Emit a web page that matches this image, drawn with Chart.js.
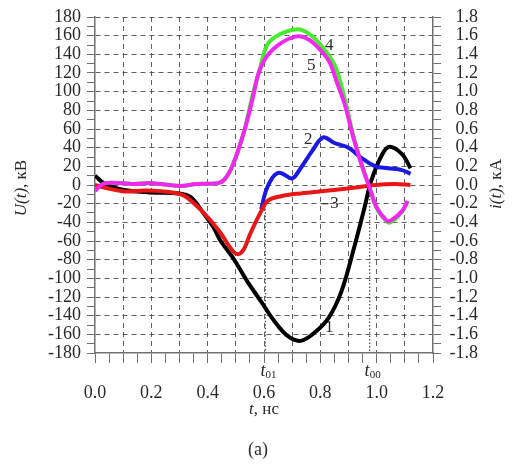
<!DOCTYPE html>
<html>
<head>
<meta charset="utf-8">
<script src="https://cdn.jsdelivr.net/npm/chart.js@4.4.1/dist/chart.umd.min.js"></script>
<style>
  html, body { margin: 0; padding: 0; background: #fff; }
  #chart { display: block; }
</style>
</head>
<body>
<canvas id="chart" width="512" height="468"></canvas>
<script>
// time axis, ns
const tRange = [0, 1.2];
// voltage axis, kV (left) and current axis, kA (right)
const uRange = [-180, 180];
const iRange = [-1.8, 1.8];

// curve 1 (black)
const curve1T = [0, 0.036, 0.1, 0.2, 0.3, 0.34, 0.38, 0.42, 0.446, 0.49, 0.54, 0.59, 0.637, 0.685, 0.73, 0.78, 0.83, 0.875, 0.92, 0.957, 0.98, 1.02, 1.046, 1.09, 1.12];
const curve1U = [10, 1, -5, -8, -9, -13, -28, -45, -60, -78, -103, -125, -146, -162, -167, -158, -142, -114, -67, -24, 4, 33, 41, 33, 18];

// curve 2 (blue)
const curve2T = [0.59, 0.607, 0.63, 0.65, 0.667, 0.70, 0.73, 0.77, 0.81, 0.85, 0.90, 0.946, 0.995, 1.04, 1.09, 1.12];
const curve2U = [-26, -6, 8, 13, 12, 7, 18, 36, 51, 45, 40, 29, 20, 18, 16, 12];

// curve 3 (red)
const curve3T = [0, 0.036, 0.107, 0.18, 0.275, 0.32, 0.38, 0.44, 0.49, 0.51, 0.53, 0.55, 0.59, 0.613, 0.66, 0.73, 0.83, 0.92, 0.995, 1.065, 1.12];
const curve3U = [0, -3, -7, -6, -8, -12, -28, -49, -71, -74, -68, -53, -28, -17, -12, -9, -6, -3, 0, 1, 0];

// curve 4 (green)
const curve4T = [0, 0.036, 0.14, 0.2, 0.3, 0.36, 0.435, 0.46, 0.49, 0.53, 0.56, 0.585, 0.613, 0.66, 0.72, 0.755, 0.79, 0.85, 0.886, 0.917, 0.946, 0.975, 1.0, 1.035, 1.05, 1.09, 1.11];
const curve4U = [-6, 2, 1, 2, -1, 1, 2, 6, 22, 58, 97, 124, 151, 162, 167, 163, 154, 129, 93, 53, 23, -3, -25, -39, -40, -29, -18];

// curve 5 (magenta)
const curve5T = [0, 0.036, 0.14, 0.2, 0.3, 0.36, 0.435, 0.46, 0.49, 0.53, 0.56, 0.58, 0.61, 0.66, 0.71, 0.745, 0.78, 0.83, 0.86, 0.886, 0.917, 0.946, 0.975, 1.0, 1.035, 1.05, 1.09, 1.11];
const curve5U = [-6, 2, 1, 2, -1, 1, 2, 6, 22, 58, 93, 119, 138, 152, 159, 158, 151, 133, 109, 87, 51, 22, -3, -24, -38, -38, -28, -17];

// characteristic times t01, t00 and the voltage where their markers start
const markerT = [0.605, 0.975];
const markerTop = [-18, 0];
const markerNames = ['01', '00'];

// curve numbers and where they sit
const curveNames = ['1', '2', '3', '4', '5'];
const curveNameT = [0.832, 0.757, 0.85, 0.832, 0.768];
const curveNameU = [-153, 49, -20, 149, 128];

const serif = '"Liberation Serif", "DejaVu Serif", serif';
const gridColor = 'rgba(70,70,70,0.85)';
const axisColor = '#707070';
const textColor = '#2a2a2a';

function points(ts, us) {
  return ts.map((t, k) => ({ x: t, y: us[k] }));
}

function curve(ts, us, color, order) {
  return {
    data: points(ts, us),
    borderColor: color,
    borderWidth: 4,
    pointRadius: 0,
    tension: 0.35,
    order: order
  };
}

const markerSets = markerT.map((t, k) => ({
  data: points([t, t], [markerTop[k], uRange[0]]),
  borderColor: '#555',
  borderWidth: 1.3,
  borderDash: [1.5, 2],
  pointRadius: 0,
  order: 10
}));

// draws a line of mixed-font text centred at (x, y)
function drawRuns(ctx, runs, x, y, angle) {
  ctx.save();
  ctx.translate(x, y);
  ctx.rotate(angle || 0);
  ctx.textBaseline = 'middle';
  ctx.textAlign = 'left';
  let total = 0;
  runs.forEach(r => { ctx.font = r[1]; total += ctx.measureText(r[0]).width; });
  let cx = -total / 2;
  runs.forEach(r => {
    ctx.font = r[1];
    ctx.fillText(r[0], cx, r[2] || 0);
    cx += ctx.measureText(r[0]).width;
  });
  ctx.restore();
}

const textPlugin = {
  id: 'annotations',
  afterDraw(chart) {
    const ctx = chart.ctx;
    const xs = chart.scales.x, ys = chart.scales.y;
    const it = 'italic 17px ' + serif, up = '17px ' + serif;
    ctx.fillStyle = textColor;

    drawRuns(ctx, [['U(t)', it], [', кВ', up]], 22, 188, -Math.PI / 2);
    drawRuns(ctx, [['i(t)', it], [', кА', up]], 497, 184, -Math.PI / 2);
    drawRuns(ctx, [['t', it], [', нс', up]], 264, 410);

    markerT.forEach((t, k) => {
      drawRuns(ctx, [['t', 'italic 18px ' + serif], [markerNames[k], '11px ' + serif, 4]], xs.getPixelForValue(t) + 3, 371);
    });

    curveNames.forEach((name, k) => {
      const px = xs.getPixelForValue(curveNameT[k]);
      const py = ys.getPixelForValue(curveNameU[k]);
      drawRuns(ctx, [[name, up]], px, py);
      if (name === '3') {
        ctx.save();
        ctx.strokeStyle = textColor;
        ctx.lineWidth = 1.2;
        ctx.beginPath();
        ctx.moveTo(px - 12, py);
        ctx.lineTo(px - 6, py);
        ctx.stroke();
        ctx.restore();
      }
    });

    drawRuns(ctx, [['(a)', '18px ' + serif]], 258, 450);
  }
};

const isStep = (v, scale, step) => Math.abs(Math.round(v * scale) % step) === 0;

new Chart(document.getElementById('chart'), {
  type: 'line',
  data: {
    datasets: [
      curve(curve5T, curve5U, 'rgb(240,40,240)', 0),
      curve(curve3T, curve3U, 'rgb(232,22,22)', 1),
      curve(curve2T, curve2U, 'rgb(25,25,225)', 2),
      curve(curve1T, curve1U, '#000', 3),
      curve(curve4T, curve4U, 'rgb(70,235,45)', 4),
      ...markerSets
    ]
  },
  options: {
    responsive: false,
    devicePixelRatio: 1,
    animation: false,
    layout: { padding: { top: 17, right: 34, bottom: 0, left: 0 } },
    plugins: { legend: { display: false }, tooltip: { enabled: false } },
    scales: {
      x: {
        type: 'linear',
        min: tRange[0],
        max: tRange[1],
        afterFit(s) { s.height = 115; },
        ticks: {
          stepSize: 0.05,
          autoSkip: false,
          maxRotation: 0,
          padding: 19,
          color: textColor,
          font: { family: serif, size: 18 },
          callback: v => isStep(v, 100, 20) ? v.toFixed(1) : ''
        },
        grid: {
          color: c => {
            const v = c.tick ? Math.round(c.tick.value * 100) : 0;
            return v % 10 === 0 && v > 0 && v < 120 ? gridColor : 'rgba(0,0,0,0)';
          },
          tickColor: axisColor,
          tickLength: 10,
          lineWidth: 1
        },
        border: { display: true, color: axisColor, width: 1.5, dash: [5, 4] }
      },
      y: {
        position: 'left',
        min: uRange[0],
        max: uRange[1],
        afterFit(s) { s.width = 95; },
        ticks: {
          stepSize: 10,
          autoSkip: false,
          padding: 6,
          color: textColor,
          font: { family: serif, size: 18 },
          callback: v => isStep(v, 1, 20) ? String(v) : ''
        },
        grid: {
          color: c => {
            const v = c.tick ? c.tick.value : 0;
            return v % 20 === 0 && v > uRange[0] ? gridColor : 'rgba(0,0,0,0)';
          },
          tickColor: axisColor,
          tickLength: 8,
          lineWidth: 1
        },
        border: { display: true, color: axisColor, width: 1.5, dash: [5, 4] }
      },
      y2: {
        position: 'right',
        min: iRange[0],
        max: iRange[1],
        afterFit(s) { s.width = 45; },
        ticks: {
          stepSize: 0.1,
          autoSkip: false,
          padding: 6,
          crossAlign: 'far',
          color: textColor,
          font: { family: serif, size: 18 },
          callback: v => isStep(v, 10, 2) ? v.toFixed(1) : ''
        },
        grid: { drawOnChartArea: false, tickColor: axisColor, tickLength: 8 },
        border: { display: true, color: axisColor, width: 1.5 }
      }
    }
  },
  plugins: [textPlugin]
});
</script>
</body>
</html>
